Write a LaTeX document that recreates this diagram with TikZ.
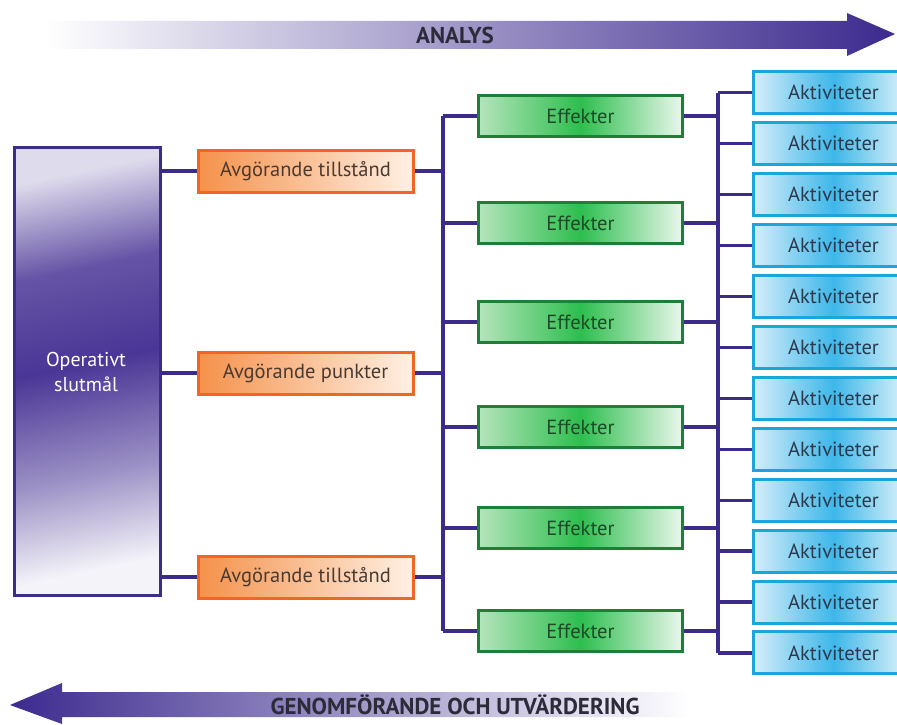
\documentclass[tikz,border=0pt]{standalone}
\usepackage{fontspec}
\setmainfont{PT Sans}
\newfontfamily\condfont{PT Sans}
\definecolor{lineviolet}{HTML}{3D2B8C}
\definecolor{arrowviolet}{HTML}{3C2A8E}
\definecolor{opborder}{HTML}{3A2E8A}
\definecolor{opdark}{HTML}{4A3696}
\definecolor{orborder}{HTML}{F26522}
\definecolor{orleft}{HTML}{F5914A}
\definecolor{orright}{HTML}{FFF0E4}
\definecolor{ortext}{HTML}{4A3A30}
\definecolor{grborder}{HTML}{1E7F36}
\definecolor{grleft}{HTML}{B5E4BC}
\definecolor{grmid}{HTML}{2DBE4E}
\definecolor{grright}{HTML}{EAF7EC}
\definecolor{grtext}{HTML}{1F4A28}
\definecolor{blborder}{HTML}{1BA6DB}
\definecolor{blleft}{HTML}{D4EDF9}
\definecolor{blmid}{HTML}{3DB7E9}
\definecolor{blright}{HTML}{EEF8FC}
\definecolor{bltext}{HTML}{2B3A4E}
\definecolor{arrowtext}{HTML}{2D2B3A}
\pgfdeclareverticalshading{opshade}{100bp}{%
  color(0bp)=(white!94!opdark);
  color(25bp)=(white!94!opdark);
  color(37bp)=(opdark!55!white);
  color(51bp)=(opdark);
  color(63bp)=(opdark!85!white);
  color(75bp)=(opdark!18!white);
  color(100bp)=(opdark!18!white)}
\begin{document}
\begin{tikzpicture}[x=1pt,y=-1pt,
  conn/.style={draw=lineviolet,line width=3.2pt},
  opbox/.style={draw=opborder,line width=3pt,minimum width=146pt,minimum height=448pt,
    inner sep=0pt,shading=opshade,shading angle=12},
  orbox/.style={draw=orborder,line width=3pt,minimum width=215pt,minimum height=42pt,
    inner sep=0pt,left color=orleft,right color=orright,text=ortext,font=\fontsize{20.5}{24}\selectfont},
  grbox/.style={draw=grborder,line width=2.8pt,minimum width=204pt,minimum height=41pt,
    inner sep=0pt,left color=grleft,right color=grright,middle color=grmid,text=grtext,font=\fontsize{20.5}{24}\selectfont},
  blbox/.style={draw=blborder,line width=3pt,minimum width=160pt,minimum height=42pt,
    inner sep=0pt,left color=blleft,right color=blright,middle color=blmid,text=bltext,font=\fontsize{20.5}{24}\selectfont,
    text width=145pt, align=center, anchor=west},
  arrowlabel/.style={text=arrowtext,font=\condfont\bfseries\fontsize{23}{26}\selectfont,inner sep=0pt}
]
\useasboundingbox[fill=white] (0,0) rectangle (897,725);

% top arrow
\shade[left color=white,right color=arrowviolet]
  (45,21) -- (847,21) -- (847,13) -- (895,34) -- (847,56) -- (847,49) -- (45,49) -- cycle;
\node[arrowlabel] (analys) at (455,35) {ANALYS};

% bottom arrow
\shade[left color=arrowviolet,right color=white]
  (10,705) -- (62,683) -- (62,692) -- (690,692) -- (690,717) -- (62,717) -- (62,724) -- cycle;
\node[arrowlabel] (genom) at (455,705) {GENOMFÖRANDE OCH UTVÄRDERING};

% left box
\node[opbox] (op) at (87,371) {};
\node[text=white,font=\fontsize{20}{25}\selectfont,align=center] (optext) at (86,372) {Operativt\\slutmål};

% orange boxes
\node[orbox] (o1) at (305.5,171) {Avgörande tillstånd};
\node[orbox] (o2) at (305.5,373) {Avgörande punkter};
\node[orbox] (o3) at (305.5,577) {Avgörande tillstånd};

% green boxes
\foreach \i/\y in {1/116,2/223,3/322,4/427,5/528,6/631}{
  \node[grbox] (e\i) at (580.5,\y) {Effekter};
}

% blue boxes
\foreach \i in {1,...,12}{
  \pgfmathsetmacro{\yy}{92.5+50.95*(\i-1)}
  \node[blbox] (a\i) at (752,\yy) {Aktiviteter};
}

% bus coordinates
\coordinate (busA) at (443,0);
\coordinate (busB) at (718,0);

% connectors left box -> orange
\foreach \k in {1,2,3}{
  \draw[conn] (op.east |- o\k) -- (o\k.west);
  \draw[conn] (o\k.east) -- (o\k.east -| busA);
}
% vertical bus A
\draw[conn] (e1 -| busA) -- (e6 -| busA);
\foreach \k in {1,...,6}{
  \draw[conn] (e\k -| busA) -- (e\k.west);
  \draw[conn] (e\k.east) -- (e\k -| busB);
}
% vertical bus B
\draw[conn] (a1 -| busB) -- (a12 -| busB);
\foreach \k in {1,...,12}{
  \draw[conn] (a\k -| busB) -- (a\k.west);
}
\end{tikzpicture}
\end{document}
